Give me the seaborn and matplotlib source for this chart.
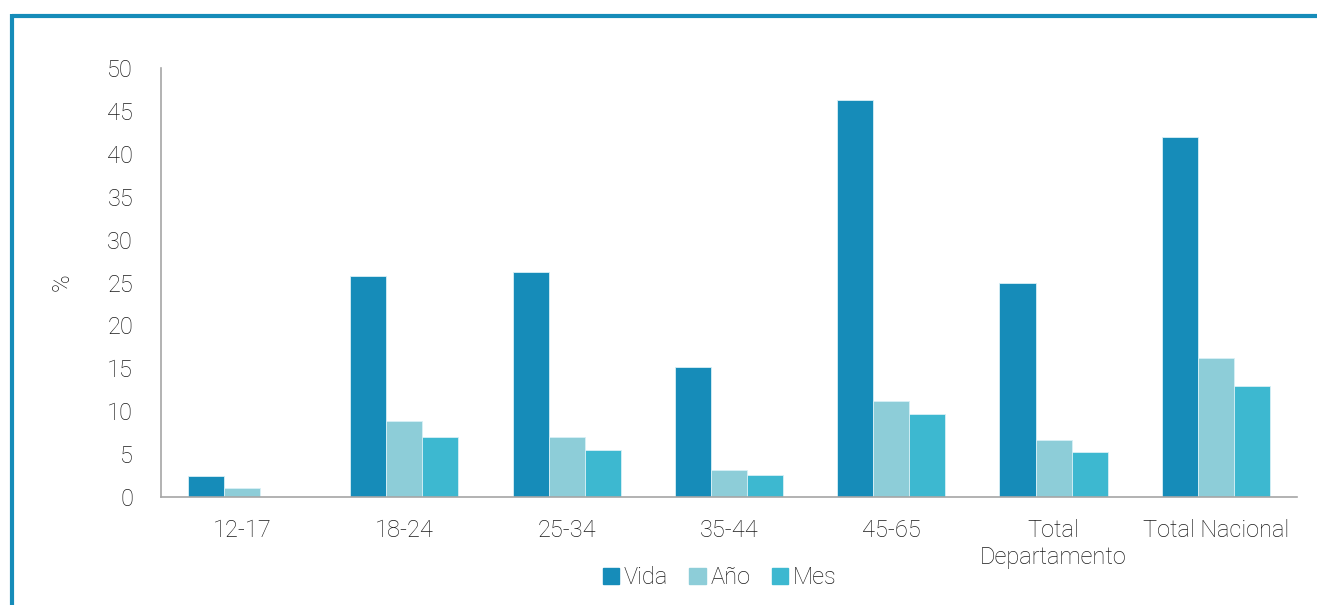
import pandas as pd
import numpy as np
import matplotlib
matplotlib.use("Agg")
import matplotlib.pyplot as plt
from matplotlib.lines import Line2D
import seaborn as sns

# ───── data ─────
categories = ['12-17', '18-24', '25-34', '35-44', '45-65', 'Total\nDepartamento', 'Total Nacional']
vida = [2.5, 25.8, 26.2, 15.2, 46.3, 24.9, 42.0]
anio = [1.1, 8.9, 7.0, 3.2, 11.2, 6.6, 16.2]
mes = [0.0, 7.0, 5.5, 2.6, 9.7, 5.3, 12.9]
series = ['Vida', 'Año', 'Mes']
colors = ['#168CB9', '#8DCDD8', '#3DB8D0']

df = pd.DataFrame({
    'cat': categories * 3,
    'serie': [s for s in series for _ in categories],
    'valor': vida + anio + mes,
})

sns.set_style('white')
plt.rcParams['font.family'] = ['Roboto', 'DejaVu Sans']
plt.rcParams['font.weight'] = 'light'
plt.rcParams['axes.labelweight'] = 'light'

fig = plt.figure(figsize=(13.17, 6.05), dpi=100)
ax = fig.add_axes([0.1222, 0.1785, 0.8626, 0.7091])

sns.barplot(data=df, x='cat', y='valor', hue='serie', hue_order=series,
            palette=colors, saturation=1, width=0.667, ax=ax,
            edgecolor='#d8f0f6', linewidth=0.6, legend=False)

fs = 17
txt = '#1a1a1a'
ax.set_ylim(0, 50)
ax.set_yticks(range(0, 51, 5))
ax.set_xlim(-0.5, len(categories) - 0.5)
ax.set_xlabel('')
ax.set_ylabel('%', fontsize=fs, color=txt, fontweight='light', labelpad=24)
ax.tick_params(axis='both', length=0, labelsize=fs, labelcolor=txt)
ax.tick_params(axis='y', pad=20)
ax.tick_params(axis='x', pad=16)
for side in ['top', 'right']:
    ax.spines[side].set_visible(False)
for side in ['left', 'bottom']:
    ax.spines[side].set_color('#A6A6A6')
    ax.spines[side].set_linewidth(1.2)

handles = [plt.Rectangle((0, 0), 1, 1, color=c) for c in colors]
leg = fig.legend(handles, series, loc='center', bbox_to_anchor=(0.5465, 0.045), ncol=3,
                 frameon=False, fontsize=fs, handlelength=0.7, handleheight=0.7,
                 handletextpad=0.2, columnspacing=0.9)
for t in leg.get_texts():
    t.set_color(txt)

# decorative frame (top and left edges)
W, H = 1317, 605
fig.add_artist(Line2D([11.5 / W, 1.0], [1 - 15.5 / H, 1 - 15.5 / H], color='#168CB9', lw=3,
                      transform=fig.transFigure, solid_capstyle='butt'))
fig.add_artist(Line2D([11.5 / W, 11.5 / W], [1 - 14 / H, 0.0], color='#168CB9', lw=3,
                      transform=fig.transFigure, solid_capstyle='butt'))

fig.savefig('out.png', dpi=100)
